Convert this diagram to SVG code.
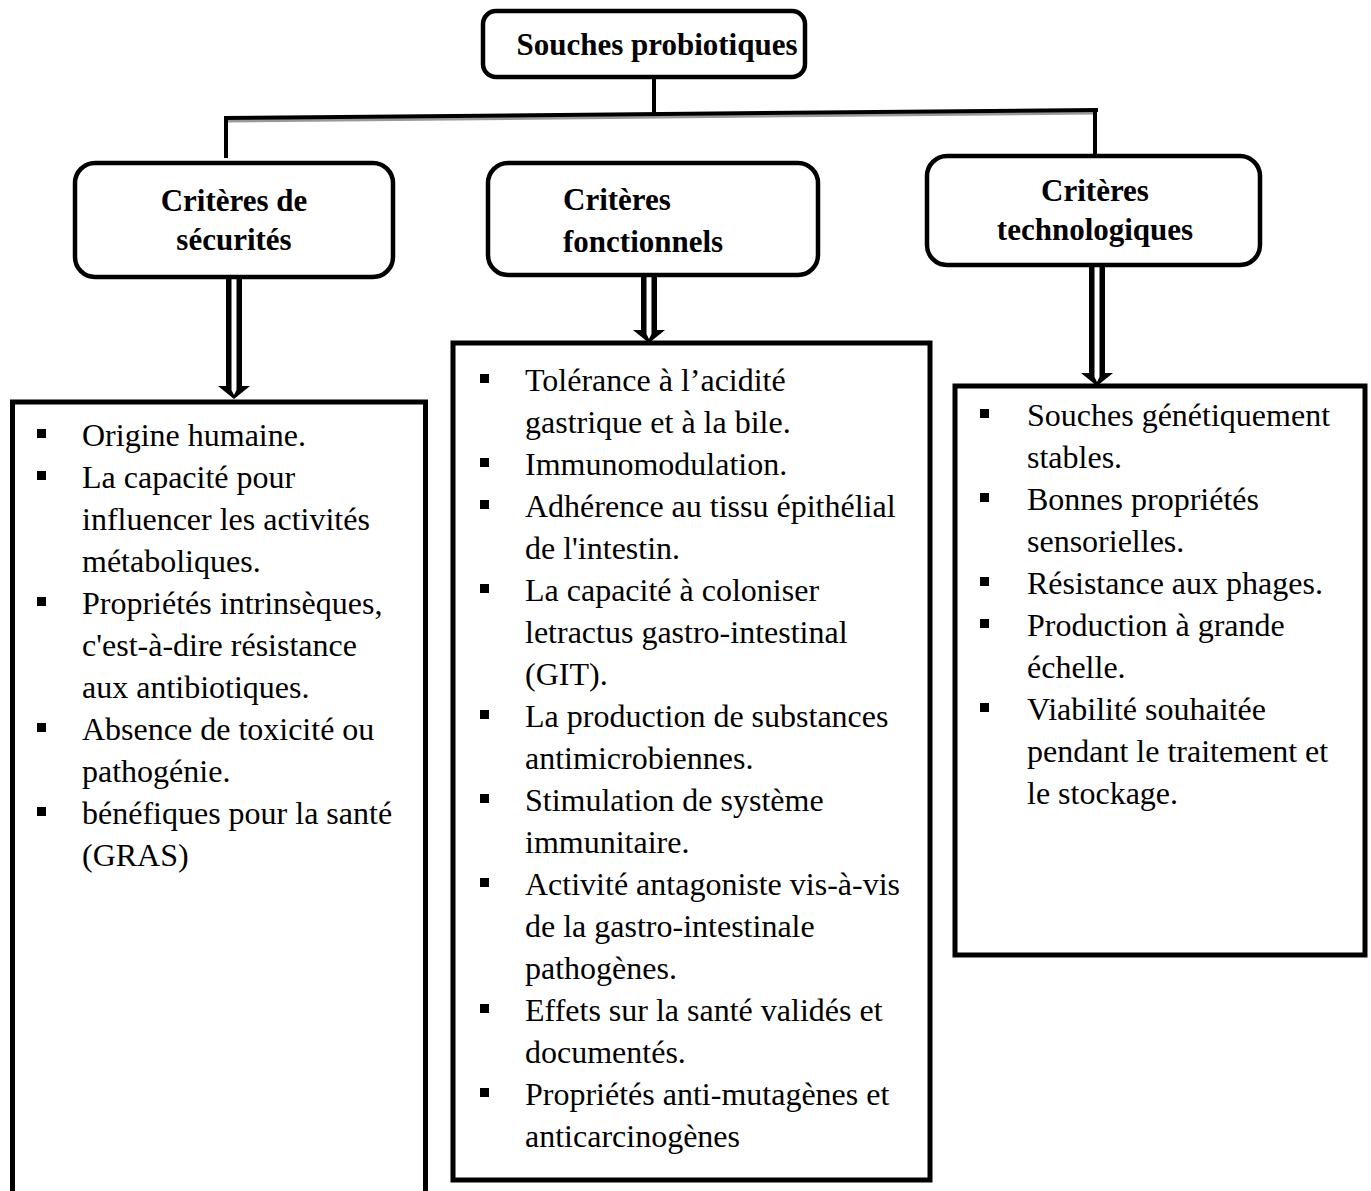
<svg xmlns="http://www.w3.org/2000/svg" width="1371" height="1191" viewBox="0 0 1371 1191">
<style>
.box{fill:#fff;stroke:#000;stroke-width:4.5}
.list{fill:#fff;stroke:#000;stroke-width:5}
.h{font-family:"Liberation Serif","Times New Roman",serif;font-weight:bold;font-size:31px;fill:#000}
.t{font-family:"Liberation Serif","Times New Roman",serif;font-size:32px;fill:#000}
.conn{stroke:#000;stroke-width:4;fill:none}
</style>
<rect width="1371" height="1191" fill="#fff"/>
<g id="connectors">
  <line class="conn" x1="654" y1="78" x2="654" y2="114"/>
  <line x1="226" y1="121" x2="1096" y2="113" stroke="#999" stroke-width="3"/>
  <line class="conn" x1="224" y1="118" x2="1098" y2="110" stroke-width="5"/>
  <line class="conn" x1="226" y1="118" x2="226" y2="158"/>
  <line class="conn" x1="1095" y1="110" x2="1095" y2="157"/>
  <g id="arrow1">
    <polygon points="226,278 242,278 242,386 250,386 234,399 218,386 226,386" fill="#000"/>
    <polygon points="231.5,278 236.5,278 236.5,390 234,395 231.5,390" fill="#fff"/>
  </g>
  <g id="arrow2">
    <polygon points="641,275 657,275 657,330 665,330 649,343 633,330 641,330" fill="#000"/>
    <polygon points="646.5,275 651.5,275 651.5,334 649,339 646.5,334" fill="#fff"/>
  </g>
  <g id="arrow3">
    <polygon points="1089,265 1105,265 1105,373 1113,373 1097,386 1081,373 1089,373" fill="#000"/>
    <polygon points="1094.5,265 1099.5,265 1099.5,377 1097,382 1094.5,377" fill="#fff"/>
  </g>
</g>
<g id="root">
  <rect class="box" x="483" y="11" width="322" height="66" rx="13"/>
  <text class="h" x="657" y="55" text-anchor="middle">Souches probiotiques</text>
</g>
<g id="securite">
  <rect class="box" x="75" y="163" width="318" height="114" rx="20"/>
  <text class="h" x="234" y="211" text-anchor="middle">Critères de</text>
  <text class="h" x="234" y="250" text-anchor="middle">sécurités</text>
</g>
<g id="fonctionnels">
  <rect class="box" x="488" y="163" width="330" height="112" rx="20"/>
  <text class="h" x="563" y="210">Critères</text>
  <text class="h" x="563" y="252">fonctionnels</text>
</g>
<g id="technologiques">
  <rect class="box" x="927" y="156" width="333" height="109" rx="20"/>
  <text class="h" x="1095" y="201" text-anchor="middle">Critères</text>
  <text class="h" x="1095" y="240" text-anchor="middle">technologiques</text>
</g>
<g id="list-securite">
  <rect class="list" x="12.5" y="402" width="413" height="800"/>
  <g fill="#000">
    <rect x="37" y="429" width="9" height="9"/>
    <rect x="37" y="471" width="9" height="9"/>
    <rect x="37" y="597" width="9" height="9"/>
    <rect x="37" y="723" width="9" height="9"/>
    <rect x="37" y="807" width="9" height="9"/>
  </g>
  <g class="t">
    <text x="82" y="446">Origine humaine.</text>
    <text x="82" y="488">La capacité pour</text>
    <text x="82" y="530">influencer les activités</text>
    <text x="82" y="572">métaboliques.</text>
    <text x="82" y="614">Propriétés intrinsèques,</text>
    <text x="82" y="656">c'est-à-dire résistance</text>
    <text x="82" y="698">aux antibiotiques.</text>
    <text x="82" y="740">Absence de toxicité ou</text>
    <text x="82" y="782">pathogénie.</text>
    <text x="82" y="824">bénéfiques pour la santé</text>
    <text x="82" y="866">(GRAS)</text>
  </g>
</g>
<g id="list-fonctionnels">
  <rect class="list" x="453" y="343" width="477" height="837"/>
  <g fill="#000">
    <rect x="480" y="374" width="9" height="9"/>
    <rect x="480" y="458" width="9" height="9"/>
    <rect x="480" y="500" width="9" height="9"/>
    <rect x="480" y="584" width="9" height="9"/>
    <rect x="480" y="710" width="9" height="9"/>
    <rect x="480" y="794" width="9" height="9"/>
    <rect x="480" y="878" width="9" height="9"/>
    <rect x="480" y="1004" width="9" height="9"/>
    <rect x="480" y="1088" width="9" height="9"/>
  </g>
  <g class="t">
    <text x="525" y="391">Tolérance à l’acidité</text>
    <text x="525" y="433">gastrique et à la bile.</text>
    <text x="525" y="475">Immunomodulation.</text>
    <text x="525" y="517">Adhérence au tissu épithélial</text>
    <text x="525" y="559">de l'intestin.</text>
    <text x="525" y="601">La capacité à coloniser</text>
    <text x="525" y="643">letractus gastro-intestinal</text>
    <text x="525" y="685">(GIT).</text>
    <text x="525" y="727">La production de substances</text>
    <text x="525" y="769">antimicrobiennes.</text>
    <text x="525" y="811">Stimulation de système</text>
    <text x="525" y="853">immunitaire.</text>
    <text x="525" y="895">Activité antagoniste vis-à-vis</text>
    <text x="525" y="937">de la gastro-intestinale</text>
    <text x="525" y="979">pathogènes.</text>
    <text x="525" y="1021">Effets sur la santé validés et</text>
    <text x="525" y="1063">documentés.</text>
    <text x="525" y="1105">Propriétés anti-mutagènes et</text>
    <text x="525" y="1147">anticarcinogènes</text>
  </g>
</g>
<g id="list-technologiques">
  <rect class="list" x="955" y="386" width="410" height="569"/>
  <g fill="#000">
    <rect x="980" y="409" width="9" height="9"/>
    <rect x="980" y="493" width="9" height="9"/>
    <rect x="980" y="577" width="9" height="9"/>
    <rect x="980" y="619" width="9" height="9"/>
    <rect x="980" y="703" width="9" height="9"/>
  </g>
  <g class="t">
    <text x="1027" y="426">Souches génétiquement</text>
    <text x="1027" y="468">stables.</text>
    <text x="1027" y="510">Bonnes propriétés</text>
    <text x="1027" y="552">sensorielles.</text>
    <text x="1027" y="594">Résistance aux phages.</text>
    <text x="1027" y="636">Production à grande</text>
    <text x="1027" y="678">échelle.</text>
    <text x="1027" y="720">Viabilité souhaitée</text>
    <text x="1027" y="762">pendant le traitement et</text>
    <text x="1027" y="804">le stockage.</text>
  </g>
</g>
</svg>
